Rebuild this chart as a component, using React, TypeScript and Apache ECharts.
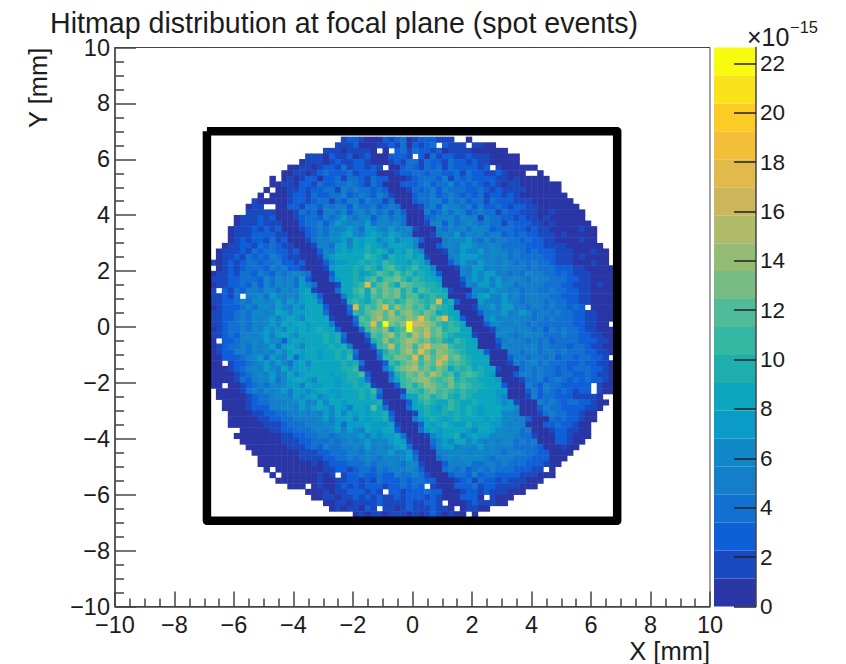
import React, { useEffect, useRef } from "react";
import * as echarts from "echarts";

const binLabels = Array.from({ length: 100 }, (_, i) => String(i));
const titleText = "Hitmap distribution at focal plane (spot events)";
const xTitle = "X [mm]";
const yTitle = "Y [mm]";
const firstRow = 16;
const boxX = [-6.91, 6.88, 6.88, -6.91, -6.91];
const boxY = [7.0, 7.0, -6.93, -6.93, 7.0];
const colorbarTicks = [0, 2, 4, 6, 8, 10, 12, 14, 16, 18, 20, 22];
const colorbarMax = 22.64;
const bandColors = [
  "#2A36A5", "#1A48BF", "#0F5FD9", "#1270D0", "#147ECA", "#1088C8", "#0A9CC6", "#0CA6BE", "#1FAEAE", "#35B7A4",
  "#50BB98", "#78BC85", "#95BC75", "#B0BB6A", "#CDB55C", "#E0BA4A", "#F2BF36", "#FCCB24", "#FBE31B", "#F9FB0E",
];

// first filled bin of each row, from the top row down
const rowStarts = [
  38, 37, 35, 32, 31, 29, 28, 26, 26, 25,
  24, 23, 22, 22, 20, 20, 19, 19, 19, 18,
  17, 17, 16, 16, 16, 16, 16, 16, 16, 16,
  16, 16, 16, 16, 16, 16, 16, 16, 16, 16, 16, 16, 16, 16, 16,
  17, 17, 18, 18, 19, 19, 19, 21, 20, 21,
  22, 23, 24, 24, 25, 26, 27, 29, 32, 33,
  35, 36, 40,
];

// bin contents in units of 1e-15, one base-36 digit per bin
const rowValues = [
  "233 2111 3234123 3322 2111",
  "2223 1112 2324132343322212211",
  "2221222 2111 33424332312222111111",
  "22213223123 1113 332431423322322211111",
  "122212322332 1112 324424332433232211111",
  "112212332423323 2111 34324342433332322111111",
  "1122123433342333 1112 334434433424332232111111",
  "1112123313342443243 3111 234443524343333221211111",
  "1122133243344543243 1113 3345344634 3432321221111111",
  "1111 22323344254544343 1112 4345354443 343232222111111",
  "11111 23324334453454354 2111 3445345434 3423323211111111",
  "21 11112 33234424355354424 1113 4455354534 4243332221111111",
  "122 21113 324435455364453454 1112 4536554535 3343233221111111",
  "2222 21112 43425546356464535 3111 5346465345 44243322211211111",
  "122232 31112 344354575466356454 1113 4556465525 4433232212111111",
  "1222322 21113 44535765657466564 1112 5636456545 44243332212111111",
  "12223232 31112 345465676477657566 2111 5465646653 44433232211111211",
  "122233332 21113 45466786578768765 1112 5657465645 53434332221211111",
  "123233242 31112 455667587896786776 3111 5666754645 5443433221111211",
  "12233243432 21112 55478687a97698876 1113 5657765565 44443332222111111",
  "1222324344332 31113 6578789a8a9697a76 1112 6576675665 45434333222111211",
  "1223243435432 21112 6788989ba96a88a78 2111 5677765656 45444433222121111",
  "212323443445332 31113 67789a8a9ba897a86 1113 6765766565 4545443222111211",
  "212323444354533 21112 7889a8ba7bca8ab986 1112 6577565655 5454443332211111",
  "1223244354354565 41113 889a79acbacab8a87 3111 6576775545 4655443432221111",
  "2223344436465647 31114 789a9bc8ccdb9ba997 1113 6767575665 465544433221111",
  "12233435364656476 41112 89abiacdb9dcbbaa9 1112 6577576645 555444332221211",
  "22324355466465678 21114 89bc9dbdcdac9cbaa8 2111 6657665645 54454433221111",
  "223243556476565787 31115 9ab8cbdcdacc9abaa 1113 6786575645 55544333221111",
  "223345466567576788 51112 aba8bdbcabdcbabi9a 3111 7665765455 5454433221111",
  "1233345466576576889 31114 iacbdibecdbcadba9 1112 6675775545 5454434321111",
  "2233454665687677898 41113 bacdecfbdecbdc9a99 1113 6667567645 545443322111",
  "22334546567578768899 21114 cbdfcedcedhdbdia9 3111 6756565545 454443322111",
  "22344546567687887989 51113 bchbmdcemgfedbaba9 1113 6655654544 44443322111",
  "123445465767687878a89 31114 bdce9bcmedfcdabb98 1112 5665654535 4544322111",
  "2234356567578768989a9a 41114 cbdfbdbfdgcdba998 2111 6654565544 4544332211",
  "1333455657663787889a9a 31112 abebcdfecdbca9ba98 1113 5655454534 444333221",
  "12344546567478768989a9a 51113 bcgbdebehddebaa99 1112 6555564544 434432211",
  "123355465657678789798a9a 41115 acbdfchdbedcba988 3111 5545645545 44433221",
  "113334567476584789798a9b 31114 bbddchbfcegcdba989 1113 5545545344 3443321",
  "1112334567576478688989a9a 41113 bacdebdcgdbcba988 1112 5456454443 3433221",
  "1112345657658678788989aab 21115 9cdefcdbdc9bab9a98 2111 4545443434 443321",
  "11112345657568678899789aac 31114 abdcecfdbc9bcba97 1113 5545443443 343221",
  "11112435657467887689979aa9 41115 9bcdeecbcdabaa9987 1112 4453454343 43321",
  "111112345465677587789789a9a 21113 bcacedcbdbcbaa988 3111 5435443333 33211",
  "111124546567577678977989a9b 41112 bbacdbcbabaa99877 1113 5354343233 3211",
  "111112344566576786787889a9a 31114 99bcabca9ba989876 1112 5344333222 21",
  "11112344555667568688789899a 21113 9aba99ba89a988767 2111 5454344332 11",
  "1111233355665767876875987c9 41114 89a97aba8a97898776 1113 5443333221",
  "11112233445565657686878799a 31112 8a89a8a9a87988665 1112 454433211",
  "11111223344555567577868789a 41115 78a979a89887976655 3111 43433211",
  "1111112223444555667477787779 21113 879a877a788776565 1113 3433211",
  "11111223344456567576587798 31114 787988976887665645 1112 332211",
  "1111111122334455456667576778 41112 6798a678776666544 2111 332111",
  "1111111222334445456567566787 21114 67688676565664545 1113 3211",
  "111111122234354455657565678 41113 677566575655544443 1112 11",
  "111111112223344455465667567 31115 56665665654555443 3111 1",
  "11111112222334454565465567 41114 565666654555444333 111",
  "111111111212333444545565466 21113 55564455454443332 11",
  "11111111112233234435455565 31114 545345454443332211",
  "11111111212323343343354454 21113 44353443333222111",
  "11111112112233232433343443 31112 34243323222111",
  "111112112323233323343433 21113 3342332222111",
  "1112122333232233233343 31112 3323222111",
  "112212232323223233323 21113 33132111",
  "11221222232222322332 31112 322211",
  "1212213222212322232 21112 211",
  "1212212221212321 21111",
];

// bins with no entries, as [column, row]
const emptyBins = [
  [44, 18], [46, 18], [50, 19], [45, 21], [27, 23], [26, 25], [25, 26], [25, 28], [26, 28], [16, 39],
  [17, 43], [21, 44], [54, 17], [59, 17], [57, 16], [58, 16], [63, 21], [69, 22], [70, 22], [79, 46],
  [83, 49], [17, 52], [18, 56], [18, 60], [26, 75], [27, 76], [32, 78], [37, 76], [45, 79], [44, 82],
  [83, 55], [80, 60], [80, 61], [72, 75], [52, 78], [55, 81], [57, 82], [62, 80], [59, 83],
];

const FONT = "Liberation Sans";
const INK = "#1c1c1c";
const LINE = "#444444";

function buildCells() {
  const empty = new Set(emptyBins.map(([c, r]) => c + ":" + r));
  const cells: number[][] = [];
  rowValues.forEach((raw, k) => {
    const row = firstRow + k;
    const text = raw.replace(/ /g, "");
    for (let n = 0; n < text.length; n++) {
      const col = rowStarts[k] + n;
      if (empty.has(col + ":" + row)) continue;
      cells.push([col, 99 - row, parseInt(text[n], 36)]);
    }
  });
  return cells;
}

const minusLabel = (v: number) => String(v).replace("-", "\u2212");

export default function App() {
  const ref = useRef<HTMLDivElement>(null);
  useEffect(() => {
    document.body.style.margin = "0";
    const chart = echarts.init(ref.current!, null, { renderer: "svg" });
    const bandSize = colorbarMax / bandColors.length;
    const grids = { left: 115, top: 47.5, width: 595, height: 559 };
    chart.setOption({
      animation: false,
      backgroundColor: "#ffffff",
      title: {
        text: titleText,
        left: 45,
        top: 3,
        textStyle: { fontFamily: FONT, fontSize: 28.6, fontWeight: "normal", color: INK },
      },
      grid: [
        { ...grids, containLabel: false },
        { ...grids, show: true, borderColor: LINE, borderWidth: 1, backgroundColor: "transparent", z: 5 },
        { left: 714, top: 47.5, width: 42, height: 559 },
      ],
      xAxis: [
        { type: "category", gridIndex: 0, data: binLabels, show: false },
        {
          type: "value", gridIndex: 1, min: -10, max: 10, interval: 2, z: 6,
          axisLine: { onZero: false, lineStyle: { color: LINE, width: 1.5 } },
          axisTick: { inside: true, length: 15, lineStyle: { color: LINE, width: 1.5 } },
          minorTick: { show: true, splitNumber: 4, length: 8, lineStyle: { color: LINE, width: 1.5 } },
          splitLine: { show: false }, minorSplitLine: { show: false },
          axisLabel: { formatter: minusLabel, fontFamily: FONT, fontSize: 23.5, color: INK, margin: 6, hideOverlap: false, showMinLabel: true, showMaxLabel: true },
          name: xTitle, nameLocation: "end", nameGap: 0,
          nameTextStyle: { fontFamily: FONT, fontSize: 25.5, color: INK, align: "right", verticalAlign: "top", padding: [31, 0, 0, 0] },
        },
        { type: "category", gridIndex: 2, data: ["scale"], show: false },
      ],
      yAxis: [
        { type: "category", gridIndex: 0, data: binLabels, show: false },
        {
          type: "value", gridIndex: 1, min: -10, max: 10, interval: 2, z: 6,
          axisLine: { onZero: false, lineStyle: { color: LINE, width: 1.5 } },
          axisTick: { inside: true, length: 21, lineStyle: { color: LINE, width: 1.5 } },
          minorTick: { show: true, splitNumber: 4, length: 9, lineStyle: { color: LINE, width: 1.5 } },
          splitLine: { show: false }, minorSplitLine: { show: false },
          axisLabel: { formatter: minusLabel, fontFamily: FONT, fontSize: 23.5, color: INK, margin: 5, hideOverlap: false, showMinLabel: true, showMaxLabel: true },
        },
        {
          type: "value", gridIndex: 2, min: 0, max: colorbarMax, position: "right", z: 6,
          axisLine: { show: true, lineStyle: { color: LINE, width: 1.5 } },
          axisTick: { show: true, inside: true, length: 22, customValues: colorbarTicks, lineStyle: { color: "#222222", width: 1.5 } },
          splitLine: { show: false },
          axisLabel: { customValues: colorbarTicks, fontFamily: FONT, fontSize: 22.5, color: INK, margin: 4, hideOverlap: false },
        },
      ],
      visualMap: {
        show: false,
        type: "piecewise",
        seriesIndex: 0,
        dimension: 2,
        pieces: bandColors.map((color, i) => ({ gte: i * bandSize, lt: (i + 1) * bandSize, color })),
      },
      graphic: [
        { type: "text", x: 51, y: 128, rotation: Math.PI / 2, style: { text: yTitle, font: `25.5px "${FONT}"`, fill: INK, textAlign: "left", textVerticalAlign: "bottom" }, silent: true },
        { type: "text", x: 747, y: 24, style: { text: "\u00d710", font: `25px "${FONT}"`, fill: INK }, silent: true },
        { type: "text", x: 790, y: 18, style: { text: "\u221215", font: `16.5px "${FONT}"`, fill: INK }, silent: true },
      ],
      series: [
        {
          type: "heatmap", xAxisIndex: 0, yAxisIndex: 0, data: buildCells(), z: 1,
          itemStyle: { borderWidth: 0 }, emphasis: { disabled: true }, progressive: 0,
        },
        {
          type: "line", xAxisIndex: 1, yAxisIndex: 1, z: 4, symbol: "none", clip: false,
          data: boxX.map((x, i) => [x, boxY[i]]),
          lineStyle: { color: "#000000", width: 8.5, join: "round" },
        },
        ...bandColors.map((color) => ({
          type: "bar", xAxisIndex: 2, yAxisIndex: 2, stack: "scale", barWidth: "100%",
          data: [bandSize], itemStyle: { color }, silent: true,
        })),
      ],
    });
    return () => chart.dispose();
  }, []);
  return <div ref={ref} style={{ width: 846, height: 664 }} />;
}
